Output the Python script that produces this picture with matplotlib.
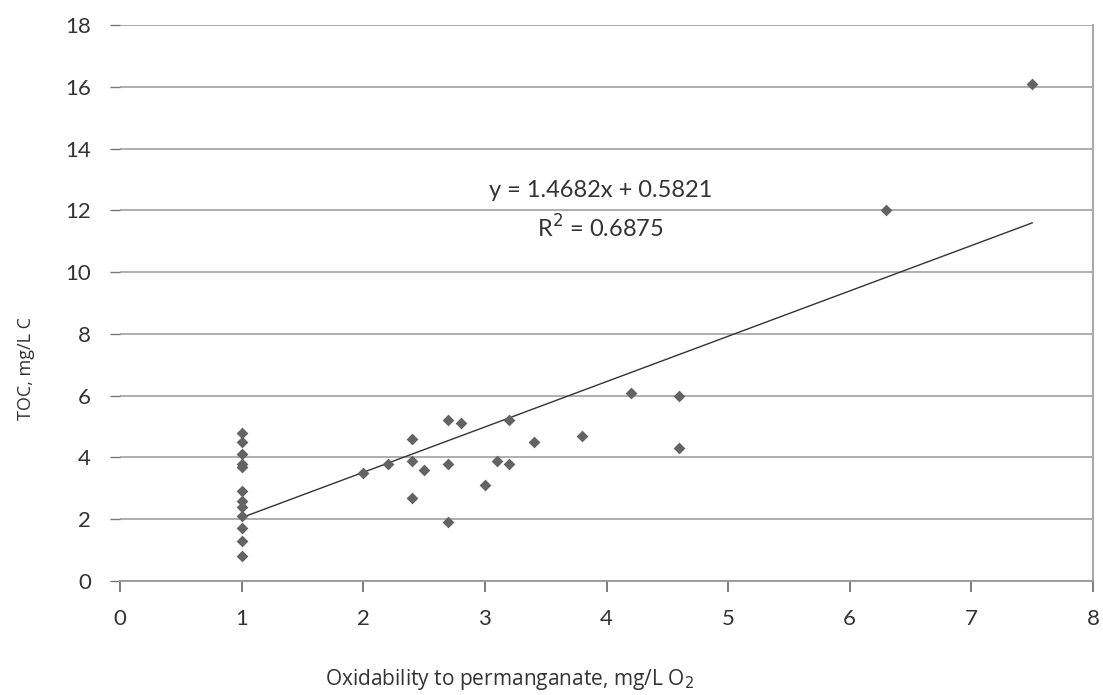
import numpy as np
import matplotlib
matplotlib.use("Agg")
import matplotlib.pyplot as plt

# oxidability to permanganate (mg/L O2) vs TOC (mg/L C)
oxid = [1, 1, 1, 1, 1, 1, 1, 1, 1, 1, 1, 1,
        2.0, 2.2, 2.4, 2.4, 2.4, 2.5, 2.7, 2.7, 2.7, 2.8,
        3.0, 3.1, 3.2, 3.2, 3.4, 3.8, 4.2, 4.6, 4.6, 6.3, 7.5]
toc = [4.8, 4.5, 4.1, 3.8, 3.7, 2.9, 2.6, 2.4, 2.1, 1.7, 1.3, 0.8,
       3.5, 3.8, 4.6, 3.9, 2.7, 3.6, 5.2, 3.8, 1.9, 5.1,
       3.1, 3.9, 5.2, 3.8, 4.5, 4.7, 6.1, 6.0, 4.3, 12.0, 16.1]

slope = 1.4682
intercept = 0.5821
r2 = 0.6875

x_ticks = np.arange(0, 9, 1)
y_ticks = np.arange(0, 19, 2)

plt.rcParams["font.family"] = ["Lato", "DejaVu Sans"]

fig = plt.figure(figsize=(11.03, 6.95), dpi=100)
ax = fig.add_axes([120 / 1103, (695 - 581) / 695, (1093 - 120) / 1103, (581 - 25) / 695])

ax.set_xlim(0, 8)
ax.set_ylim(0, 18)
ax.set_xticks(x_ticks)
ax.set_yticks(y_ticks)

ax.grid(axis="y", color="#a8a8a8", linewidth=1.3)
ax.set_axisbelow(True)

for s in ["top", "left"]:
    ax.spines[s].set_visible(False)
ax.spines["bottom"].set_color("#999999")
ax.spines["bottom"].set_linewidth(1.3)
ax.spines["right"].set_color("#aaaaaa")
ax.spines["right"].set_linewidth(1.5)

ax.tick_params(axis="x", direction="out", length=8, width=1.2, color="#666666",
               labelsize=16, pad=12, labelcolor="#333333")
ax.tick_params(axis="y", direction="out", length=7, width=1.0, color="#777777",
               labelsize=16, pad=14, labelcolor="#333333")

# trend line
xl = np.array([min(oxid), max(oxid)])
ax.plot(xl, slope * xl + intercept, color="#333333", linewidth=1.0, zorder=2)

ax.scatter(oxid, toc, marker="D", s=36, color="#636363", linewidths=0, zorder=3)

ax.text(3.95, 12.65, "y = %.4fx + %.4f" % (slope, intercept), ha="center", va="center",
        fontsize=17, color="#333333")
ax.text(3.95, 11.42, "R$^2$ = %.4f" % r2, ha="center", va="center",
        fontsize=17, color="#333333")

fig.text(510 / 1103, 1 - 680 / 695, "Oxidability to permanganate, mg/L O$_2$",
         ha="center", va="center", fontsize=15, color="#333333",
         family=["Open Sans", "DejaVu Sans"])
fig.text(26 / 1103, 1 - 368 / 695, "TOC, mg/L C", ha="center", va="center",
         rotation=90, fontsize=13, color="#333333",
         family=["Open Sans", "DejaVu Sans"])

fig.savefig("out.png", dpi=100)
